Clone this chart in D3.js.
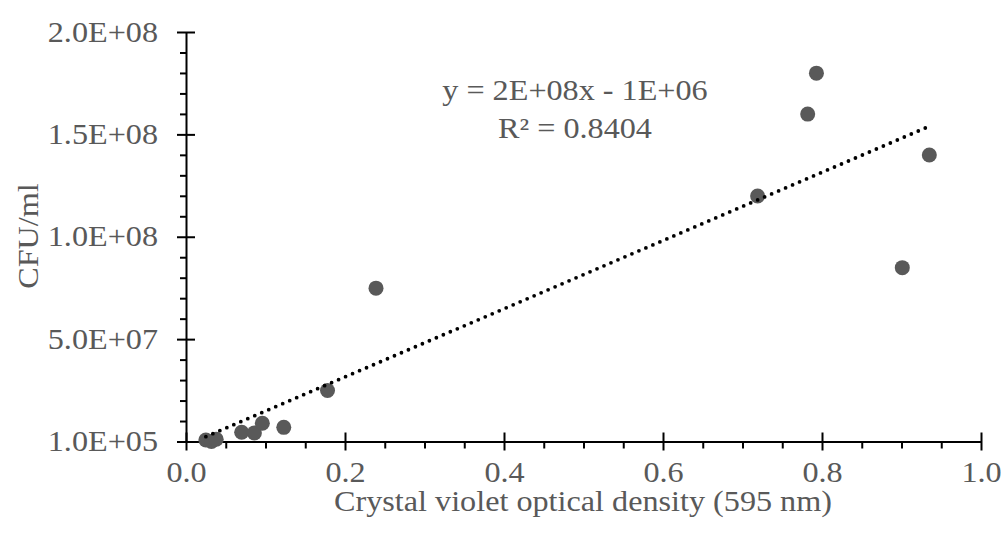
<!DOCTYPE html>
<html>
<head>
<meta charset="utf-8">
<script src="https://cdn.jsdelivr.net/npm/d3@7"></script>
<style>
  html, body { margin: 0; padding: 0; background: #fff; }
  svg { display: block; font-family: "Liberation Serif", "Times New Roman", serif; }
</style>
</head>
<body>
<svg id="chart" width="1008" height="541"></svg>
<script>
// Biofilm measurements: crystal violet OD vs viable counts
const opticalDensity = [0.025, 0.032, 0.038, 0.070, 0.086, 0.096, 0.123, 0.178, 0.239, 0.719, 0.782, 0.793, 0.901, 0.935];
const cfuPerMl      = [8e5, 1e5, 1.2e6, 4.6e6, 4.3e6, 9e6, 7e6, 2.5e7, 7.5e7, 1.2e8, 1.6e8, 1.8e8, 8.5e7, 1.4e8];

const xTickValues = [0, 0.2, 0.4, 0.6, 0.8, 1.0];
const xTickLabels = ["0.0", "0.2", "0.4", "0.6", "0.8", "1.0"];
const yTickValues = [1e5, 5.01e7, 1.001e8, 1.501e8, 2.001e8];
const yTickLabels = ["1.0E+05", "5.0E+07", "1.0E+08", "1.5E+08", "2.0E+08"];

const equationLines = ["y = 2E+08x - 1E+06", "R² = 0.8404"];
const xTitle = "Crystal violet optical density (595 nm)";
const yTitle = "CFU/ml";

const textColor = "#595959";
const pointColor = "#595959";
const fontSize = 28.5;
const widen = 1.13;   // horizontal glyph stretch
const fontFamily = "'Liberation Serif', 'Times New Roman', serif";

const svg = d3.select("#chart");

const x = d3.scaleLinear().domain([0, 1]).range([186, 981]);
const y = d3.scaleLinear().domain([1e5, 2.001e8]).range([441.5, 32]);

// Least-squares trendline
const n = opticalDensity.length;
const mx = d3.mean(opticalDensity), my = d3.mean(cfuPerMl);
let sxy = 0, sxx = 0;
for (let i = 0; i < n; i++) {
  sxy += (opticalDensity[i] - mx) * (cfuPerMl[i] - my);
  sxx += (opticalDensity[i] - mx) ** 2;
}
const slope = sxy / sxx, intercept = my - slope * mx;
const [xMin, xMax] = d3.extent(opticalDensity);

// Minor ticks (outside)
const xMinor = d3.range(0, 1.0001, 0.05).filter(v => Math.abs(Math.round(v * 5) - v * 5) > 1e-6);
const yMinor = d3.range(1e5, 2.002e8, 1e7).filter((v, i) => i % 5 !== 0);

svg.append("g")
  .attr("transform", `translate(0,${y.range()[0]})`)
  .call(d3.axisBottom(x).tickValues(xMinor).tickSize(7).tickFormat(""))
  .call(g => g.select(".domain").remove())
  .call(g => g.selectAll("line").attr("stroke", "#000").attr("stroke-width", 2));

svg.append("g")
  .attr("transform", `translate(${x.range()[0]},0)`)
  .call(d3.axisLeft(y).tickValues(yMinor).tickSize(6).tickFormat(""))
  .call(g => g.select(".domain").remove())
  .call(g => g.selectAll("line").attr("stroke", "#000").attr("stroke-width", 2));

// Major axes with crossing ticks
const xAxis = svg.append("g")
  .attr("transform", `translate(0,${y.range()[0]})`)
  .call(d3.axisBottom(x).tickValues(xTickValues).tickSizeInner(9).tickSizeOuter(0).tickPadding(11)
    .tickFormat((d, i) => xTickLabels[i]));
xAxis.select(".domain").attr("stroke", "#000").attr("stroke-width", 2);
xAxis.selectAll(".tick line").attr("y1", -9).attr("y2", 9).attr("stroke", "#000").attr("stroke-width", 2);
xAxis.selectAll(".tick text")
  .attr("fill", textColor)
  .style("font-size", fontSize + "px")
  .style("font-family", fontFamily)
  .attr("transform", function () {
    const ty = +d3.select(this).attr("y");
    d3.select(this).attr("y", 0);
    return `translate(0,${ty}) scale(${widen},1)`;
  });

const yAxis = svg.append("g")
  .attr("transform", `translate(${x.range()[0]},0)`)
  .call(d3.axisLeft(y).tickValues(yTickValues).tickSizeInner(9).tickSizeOuter(0).tickPadding(19)
    .tickFormat((d, i) => yTickLabels[i]));
yAxis.select(".domain").attr("stroke", "#000").attr("stroke-width", 2);
yAxis.selectAll(".tick line").attr("x1", 9).attr("x2", -9).attr("stroke", "#000").attr("stroke-width", 2);
yAxis.selectAll(".tick text")
  .attr("fill", textColor)
  .style("font-size", fontSize + "px")
  .style("font-family", fontFamily)
  .attr("transform", function () {
    const tx = +d3.select(this).attr("x");
    d3.select(this).attr("x", 0);
    return `translate(${tx},0) scale(${widen},1)`;
  });

// Points
svg.append("g")
  .selectAll("circle")
  .data(opticalDensity.map((d, i) => [d, cfuPerMl[i]]))
  .join("circle")
  .attr("cx", d => x(d[0]))
  .attr("cy", d => y(d[1]))
  .attr("r", 7.5)
  .attr("fill", pointColor);

// Dotted linear trendline
svg.append("line")
  .attr("x1", x(xMin)).attr("y1", y(slope * xMin + intercept))
  .attr("x2", x(xMax)).attr("y2", y(slope * xMax + intercept))
  .attr("stroke", "#000")
  .attr("stroke-width", 3.8)
  .attr("stroke-linecap", "round")
  .attr("stroke-dasharray", "0 7.6");

// Equation label
svg.append("text")
  .attr("transform", `translate(575,100) scale(${widen},1)`)
  .attr("text-anchor", "middle")
  .attr("fill", textColor)
  .style("font-size", fontSize + "px")
  .selectAll("tspan")
  .data(equationLines)
  .join("tspan")
  .attr("x", 0)
  .attr("dy", (d, i) => i === 0 ? 0 : 38)
  .text(d => d);

// Axis titles
svg.append("text")
  .attr("transform", `translate(583,511) scale(${widen},1)`)
  .attr("text-anchor", "middle")
  .attr("fill", textColor)
  .style("font-size", fontSize + "px")
  .text(xTitle);

svg.append("text")
  .attr("transform", `translate(38,236) rotate(-90) scale(${widen},1)`)
  .attr("text-anchor", "middle")
  .attr("fill", textColor)
  .style("font-size", fontSize + "px")
  .text(yTitle);
</script>
</body>
</html>
